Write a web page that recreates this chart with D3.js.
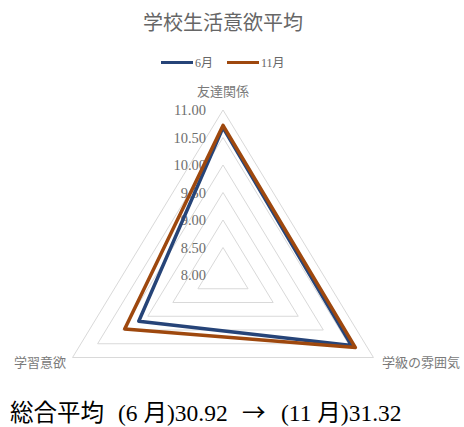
<!DOCTYPE html>
<html>
<head>
<meta charset="utf-8">
<script src="https://cdn.jsdelivr.net/npm/d3@7"></script>
<style>
  body { margin: 0; background: #fff; }
  svg { display: block; }
  text { font-family: "Liberation Serif", "Noto Sans CJK JP", serif; }
</style>
</head>
<body>
<svg width="464" height="427"></svg>
<script>
////////////////////////////// DATA //////////////////////////////

var categories = ['友達関係', '学級の雰囲気', '学習意欲'];
var seriesNames = ['6月', '11月'];
var june = [10.68, 10.56, 9.68];
var november = [10.72, 10.64, 9.96];
var tickValues = [8.00, 8.50, 9.00, 9.50, 10.00, 10.50, 11.00];
var summaryParts = ['総合平均', '(6 月)30.92', '→', '(11 月)31.32'];

var seriesColors = ['#264478', '#9e480e'];

////////////////////////////// SETUP //////////////////////////////

var svg = d3.select('svg');
var cx = 223, cy = 275;
// the plot is a bit wider than an equilateral triangle
var kx = 1.053;

var rScale = d3.scaleLinear().domain([8, 11]).range([0, 165]);
var angle = d3.scaleLinear().domain([0, categories.length]).range([0, 2 * Math.PI]);

function pt(i, v) {
    var a = angle(i), r = rScale(v);
    return [cx + Math.sin(a) * r * kx, cy - Math.cos(a) * r];
}

var line = d3.line().curve(d3.curveLinearClosed);

////////////////////////////// TITLE + LEGEND //////////////////////////////

svg.append('text')
    .attr('x', 223).attr('y', 30)
    .attr('text-anchor', 'middle')
    .attr('font-size', 20)
    .attr('fill', '#666')
    .text('学校生活意欲平均');

var legendX = [161, 227];
var legend = svg.append('g').attr('class', 'legend');
seriesNames.forEach(function(name, i) {
    legend.append('line')
        .attr('x1', legendX[i]).attr('x2', legendX[i] + 32)
        .attr('y1', 62.5).attr('y2', 62.5)
        .attr('stroke', seriesColors[i])
        .attr('stroke-width', 3);
    legend.append('text')
        .attr('x', legendX[i] + 34).attr('y', 62.5)
        .attr('dominant-baseline', 'central')
        .attr('font-size', 12)
        .attr('fill', '#666')
        .text(name);
});

////////////////////////////// GRID //////////////////////////////

var grid = svg.append('g').attr('class', 'grid');
tickValues.slice(1).forEach(function(t) {
    grid.append('path')
        .attr('d', line(categories.map(function(c, i) { return pt(i, t); })))
        .attr('fill', 'none')
        .attr('stroke', '#d9d9d9')
        .attr('stroke-width', 1);
});

// tick labels along the top axis
svg.append('g').selectAll('text')
    .data(tickValues).enter().append('text')
    .attr('x', 206)
    .attr('y', function(d) { return cy - rScale(d); })
    .attr('text-anchor', 'end')
    .attr('dominant-baseline', 'central')
    .attr('font-size', 14.5)
    .attr('fill', '#6e6e6e')
    .text(function(d) { return d3.format('.2f')(d); });

// category labels
var labelPos = [
    {x: 223, y: 91, anchor: 'middle'},
    {x: 382, y: 362, anchor: 'start'},
    {x: 66, y: 362, anchor: 'end'}
];
svg.append('g').selectAll('text')
    .data(categories).enter().append('text')
    .attr('x', function(d, i) { return labelPos[i].x; })
    .attr('y', function(d, i) { return labelPos[i].y; })
    .attr('text-anchor', function(d, i) { return labelPos[i].anchor; })
    .attr('dominant-baseline', 'central')
    .attr('font-size', 13)
    .attr('fill', '#7a7a7a')
    .text(function(d) { return d; });

////////////////////////////// SERIES //////////////////////////////

[june, november].forEach(function(vals, s) {
    svg.append('path')
        .attr('d', line(vals.map(function(v, i) { return pt(i, v); })))
        .attr('fill', 'none')
        .attr('stroke', seriesColors[s])
        .attr('stroke-width', 3.5)
        .attr('stroke-linejoin', 'round');
});

////////////////////////////// SUMMARY //////////////////////////////

var summaryX = [10, 118, 242, 281];
var summary = svg.append('text')
    .attr('y', 421)
    .attr('font-size', 23.5)
    .attr('fill', '#000');
summary.selectAll('tspan')
    .data(summaryParts).enter().append('tspan')
    .attr('x', function(d, i) { return summaryX[i]; })
    .style('font-family', function(d, i) {
        return i === 2 ? '"Noto Sans CJK JP"' : null;
    })
    .text(function(d) { return d; });
</script>
</body>
</html>
